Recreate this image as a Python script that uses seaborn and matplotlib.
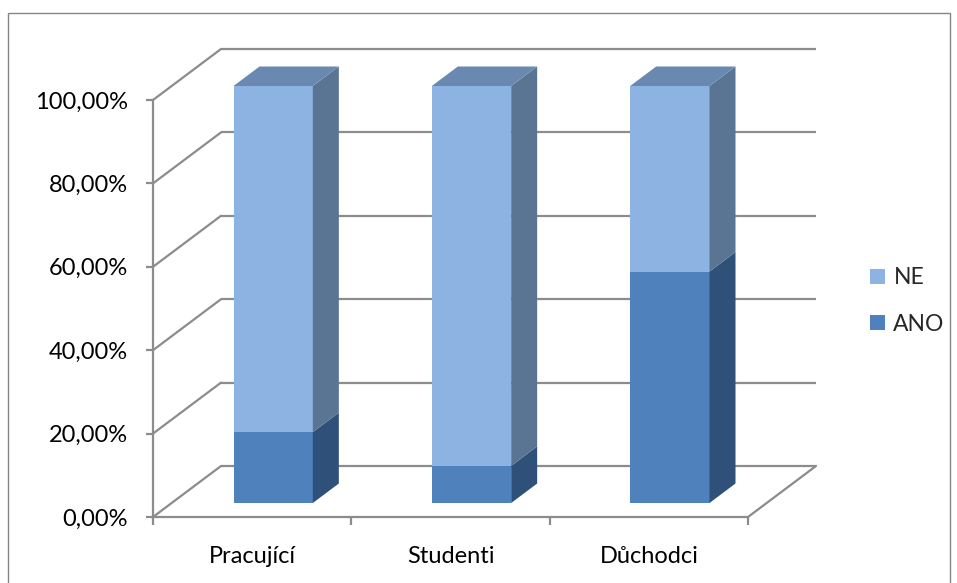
import pandas as pd
import matplotlib
matplotlib.use("Agg")
import matplotlib.pyplot as plt
from matplotlib.patches import Polygon, Rectangle, Patch
import seaborn as sns

# data
categories = ["Pracující", "Studenti", "Důchodci"]
ano = [17.0, 8.9, 55.5]
ne = [83.0, 91.1, 44.5]
y_ticks = [0, 20, 40, 60, 80, 100]
y_tick_labels = ["0,00%", "20,00%", "40,00%", "60,00%", "80,00%", "100,00%"]

W, H = 957, 583
sns.set_theme(style="white")
plt.rcParams["font.family"] = ["Lato", "DejaVu Sans"]
FS = 17

# colours (front, side, top)
ne_col, ne_side, ne_top = "#8DB3E2", "#5A7493", "#6A89B1"
ano_col, ano_side = "#4F81BD", "#2F5179"
grid_col = "#8C8C8C"

fig = plt.figure(figsize=(W / 100, H / 100), dpi=100)
# axes = front plane of the 3D box
ax = fig.add_axes([153 / W, (H - 517) / H, 595 / W, 417 / H])

df = pd.DataFrame({"kategorie": categories, "ANO": ano, "NE": ne})
df["celkem"] = df["ANO"] + df["NE"]

sns.barplot(data=df, x="kategorie", y="celkem", color=ne_col, width=0.4,
            saturation=1, errorbar=None, ax=ax, zorder=3)
sns.barplot(data=df, x="kategorie", y="ANO", color=ano_col, width=0.4,
            saturation=1, errorbar=None, ax=ax, zorder=3)

ax.set_xlim(-0.5, 2.5)
ax.set_ylim(0, 100)

# oblique projection: depth of the floor and of the bars (in data units)
DX, DY = 68 / 198.33, 51 / 4.17
bdx, bdy = 26 / 198.33, 19.5 / 4.17
ox, oy = 21 / 198.33, 14 / 4.17  # bar front face sits a bit behind the front plane

for p in ax.patches:
    p.set_x(p.get_x() + ox)
    p.set_y(p.get_y() + oy)
    p.set_edgecolor("none")
    p.set_clip_on(False)

# side and top faces
n = len(categories)
for i, p in enumerate(ax.patches[:n]):
    xl = p.get_x()
    xr = xl + p.get_width()
    b = oy
    a = ano[i] + oy
    t = ano[i] + ne[i] + oy
    ax.add_patch(Polygon([(xr, b), (xr + bdx, b + bdy), (xr + bdx, a + bdy), (xr, a)],
                         closed=True, fc=ano_side, ec="none", zorder=3, clip_on=False))
    ax.add_patch(Polygon([(xr, a), (xr + bdx, a + bdy), (xr + bdx, t + bdy), (xr, t)],
                         closed=True, fc=ne_side, ec="none", zorder=3, clip_on=False))
    ax.add_patch(Polygon([(xl, t), (xl + bdx, t + bdy), (xr + bdx, t + bdy), (xr, t)],
                         closed=True, fc=ne_top, ec="none", zorder=3, clip_on=False))

# back wall gridlines and side wall lines
for v in y_ticks:
    ax.plot([-0.5 + DX, 2.5 + DX], [v + DY, v + DY], color=grid_col, lw=1.6,
            zorder=1, clip_on=False, solid_capstyle="butt")
    ax.plot([-0.5, -0.5 + DX], [v, v + DY], color=grid_col, lw=1.6,
            zorder=1, clip_on=False)
ax.plot([2.5, 2.5 + DX], [0, DY], color=grid_col, lw=1.6, zorder=1, clip_on=False)

for s in ["top", "right"]:
    ax.spines[s].set_visible(False)
for s in ["left", "bottom"]:
    ax.spines[s].set_color(grid_col)
    ax.spines[s].set_linewidth(1.6)

ax.set_yticks(y_ticks)
ax.set_yticklabels(y_tick_labels)
ax.set_xticks(range(n))
ax.set_xticklabels(categories)
ax.set_xticks([-0.5, 0.5, 1.5, 2.5], minor=True)
ax.tick_params(axis="y", left=True, direction="out", length=5, width=1.6,
               color=grid_col, pad=13, labelsize=FS, labelcolor="black")
ax.tick_params(axis="x", which="major", bottom=False, length=0, pad=21,
               labelsize=FS, labelcolor="black")
ax.tick_params(axis="x", which="minor", bottom=True, direction="out", length=6,
               width=1.6, color=grid_col)
ax.set_xlabel("")
ax.set_ylabel("")
ax.set_facecolor("none")

handles = [Patch(fc=ne_col, ec="none", label="NE"),
           Patch(fc=ano_col, ec="none", label="ANO")]
fig.legend(handles=handles, loc="center left", bbox_to_anchor=(870 / W, 1 - 301 / H),
           frameon=False, fontsize=16.5, handlelength=0.67, handleheight=0.67,
           handletextpad=0.35, labelspacing=1.1, borderpad=0, borderaxespad=0)

fig.patches.append(Rectangle((8 / W, -0.01), (950 - 8) / W, (583 - 13) / H + 0.01,
                             transform=fig.transFigure, fill=False, ec="#868686", lw=1))

fig.savefig("out.png", dpi=100)
